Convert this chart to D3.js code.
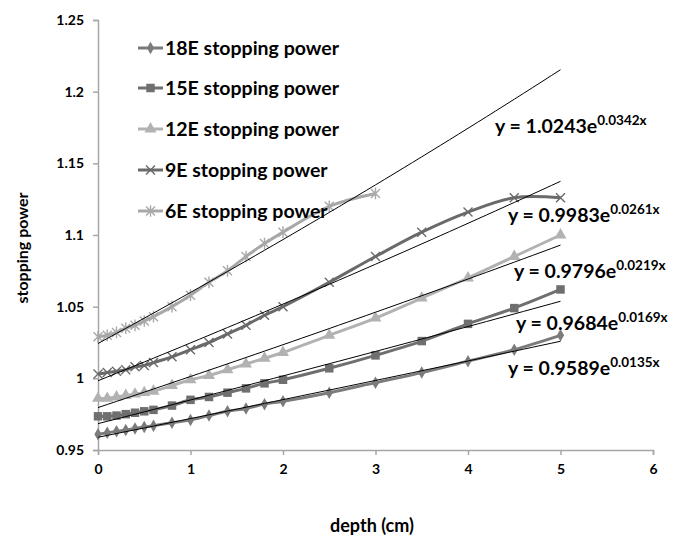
<!DOCTYPE html>
<html>
<head>
<meta charset="utf-8">
<script src="https://cdn.jsdelivr.net/npm/d3@7"></script>
<style>
  body { margin: 0; background: #fff; }
  text { font-family: Lato, "Open Sans", sans-serif; font-weight: bold; fill: #000; }
</style>
</head>
<body>
<div id="chart"></div>
<script>
// 1: DATA
const depth = [0, 0.1, 0.2, 0.3, 0.4, 0.5, 0.6, 0.8, 1.0, 1.2, 1.4, 1.6, 1.8, 2.0, 2.5, 3.0, 3.5, 4.0, 4.5, 5.0];

const sp18E = [0.961, 0.962, 0.963, 0.964, 0.965, 0.966, 0.967, 0.969, 0.971, 0.974, 0.977, 0.979, 0.982, 0.984, 0.990, 0.997, 1.004, 1.012, 1.020, 1.030];
const sp15E = [0.9735, 0.9735, 0.974, 0.975, 0.976, 0.977, 0.978, 0.981, 0.985, 0.987, 0.990, 0.993, 0.9965, 0.999, 1.007, 1.016, 1.026, 1.038, 1.049, 1.062];
const sp12E = [0.986, 0.986, 0.987, 0.988, 0.989, 0.990, 0.991, 0.995, 0.999, 1.002, 1.006, 1.010, 1.014, 1.018, 1.030, 1.042, 1.056, 1.070, 1.085, 1.100];
const sp9E  = [1.003, 1.004, 1.005, 1.006, 1.008, 1.009, 1.011, 1.015, 1.020, 1.025, 1.031, 1.037, 1.044, 1.050, 1.067, 1.085, 1.102, 1.116, 1.126, 1.126];
const sp6E  = [1.029, 1.030, 1.032, 1.035, 1.037, 1.040, 1.043, 1.050, 1.058, 1.067, 1.075, 1.085, 1.094, 1.102, 1.120, 1.129];

const seriesNames = ["18E stopping power", "15E stopping power", "12E stopping power", "9E stopping power", "6E stopping power"];

// exponential trendlines y = a * e^(b x), as printed on the chart
const trendA = [0.9589, 0.9684, 0.9796, 0.9983, 1.0243];
const trendB = [0.0135, 0.0169, 0.0219, 0.0261, 0.0342];
const trendLabelA = ["0.9589", "0.9684", "0.9796", "0.9983", "1.0243"];
const trendLabelB = ["0.0135x", "0.0169x", "0.0219x", "0.0261x", "0.0342x"];

const xTicks = [0, 1, 2, 3, 4, 5, 6];
const yTicks = [0.95, 1, 1.05, 1.1, 1.15, 1.2, 1.25];

// 2: SETUP
const W = 695, H = 539;
const svg = d3.select("#chart").append("svg")
  .attr("width", W).attr("height", H);

const x = d3.scaleLinear().domain([0, 6]).range([98, 653]);
const y = d3.scaleLinear().domain([0.95, 1.25]).range([450, 20]);

const colors = ["#7b7b7b", "#6f6f6f", "#b2b2b2", "#6a6a6a", "#a8a8a8"];
const values = [sp18E, sp15E, sp12E, sp9E, sp6E];

// 3: AXES
const axisColor = "#a6a6a6";
const gx = svg.append("g")
  .attr("transform", `translate(0,${y(0.95)})`)
  .call(d3.axisBottom(x).tickValues(xTicks).tickFormat(d3.format("d")).tickSize(5).tickPadding(9));
const gy = svg.append("g")
  .attr("transform", `translate(${x(0)},0)`)
  .call(d3.axisLeft(y).tickValues(yTicks).tickFormat(d => d3.format("")(+d.toFixed(2))).tickSize(5).tickPadding(9));

[gx, gy].forEach(g => {
  g.select(".domain").attr("stroke", axisColor).attr("stroke-width", 1.5);
  g.selectAll(".tick line").attr("stroke", axisColor).attr("stroke-width", 1.5);
  g.selectAll(".tick text").style("font-size", "14px").style("font-family", "Lato, sans-serif").style("font-weight", "bold").attr("fill", "#000");
});

// axis titles
svg.append("text")
  .attr("x", 372).attr("y", 532)
  .attr("text-anchor", "middle")
  .style("font-size", "18px")
  .text("depth (cm)");

svg.append("text")
  .attr("transform", "translate(28,248) rotate(-90)")
  .attr("text-anchor", "middle")
  .style("font-size", "16px")
  .text("stopping power");

// 4: MARKERS
function markerPath(i) {
  const s = 4.5;
  if (i === 0) return d3.symbol(d3.symbolDiamond, 45)();
  if (i === 1) return d3.symbol(d3.symbolSquare, 72)();
  if (i === 2) return d3.symbol(d3.symbolTriangle, 62)();
  if (i === 3) return `M${-s},${-s}L${s},${s}M${-s},${s}L${s},${-s}`;
  return `M${-s},${-s}L${s},${s}M${-s},${s}L${s},${-s}M0,${-s * 1.3}L0,${s * 1.3}`;
}
const filledMarker = i => i < 3;

// 5: SERIES
const line = d3.line()
  .x(d => x(d[0]))
  .y(d => y(d[1]))
  .curve(d3.curveCatmullRom.alpha(0.5));

values.forEach((vals, i) => {
  const pts = vals.map((v, k) => [depth[k], v]);
  const g = svg.append("g").attr("class", "series");
  g.append("path")
    .datum(pts)
    .attr("fill", "none")
    .attr("stroke", colors[i])
    .attr("stroke-width", 3)
    .attr("d", line);
  g.selectAll("path.marker")
    .data(pts)
    .enter().append("path")
    .attr("class", "marker")
    .attr("transform", d => `translate(${x(d[0])},${y(d[1])})`)
    .attr("d", markerPath(i))
    .attr("fill", filledMarker(i) ? colors[i] : "none")
    .attr("stroke", colors[i])
    .attr("stroke-width", filledMarker(i) ? 0 : 1.4);
});

// 6: TRENDLINES
const trendX = d3.range(0, 5.001, 0.1);
const trendLine = d3.line().x(d => x(d[0])).y(d => y(d[1]));
trendA.forEach((a, i) => {
  svg.append("path")
    .datum(trendX.map(t => [t, a * Math.exp(trendB[i] * t)]))
    .attr("fill", "none")
    .attr("stroke", "#000")
    .attr("stroke-width", 1)
    .attr("d", trendLine);
});

// equation labels (bottom to top order matches trendA)
const eqPos = [[508, 375], [516, 330], [514, 278], [508, 222], [495, 133]];
trendA.forEach((a, i) => {
  const t = svg.append("text")
    .attr("x", eqPos[i][0]).attr("y", eqPos[i][1])
    .style("font-size", "19.5px");
  t.append("tspan").text(`y = ${trendLabelA[i]}e`);
  t.append("tspan").attr("dy", -8).style("font-size", "13.5px").text(trendLabelB[i]);
});

// 7: LEGEND
const legendY = [48, 88, 129, 170, 211];
seriesNames.forEach((name, i) => {
  const g = svg.append("g").attr("transform", `translate(138,${legendY[i]})`);
  g.append("line")
    .attr("x1", 0).attr("x2", 25)
    .attr("stroke", colors[i]).attr("stroke-width", 3);
  g.append("path")
    .attr("transform", "translate(12.5,0)")
    .attr("d", markerPath(i))
    .attr("fill", filledMarker(i) ? colors[i] : "none")
    .attr("stroke", colors[i])
    .attr("stroke-width", filledMarker(i) ? 0 : 1.4);
  g.append("text")
    .attr("x", 27).attr("y", 6.5)
    .style("font-size", "19.5px")
    .text(name);
});
</script>
</body>
</html>
